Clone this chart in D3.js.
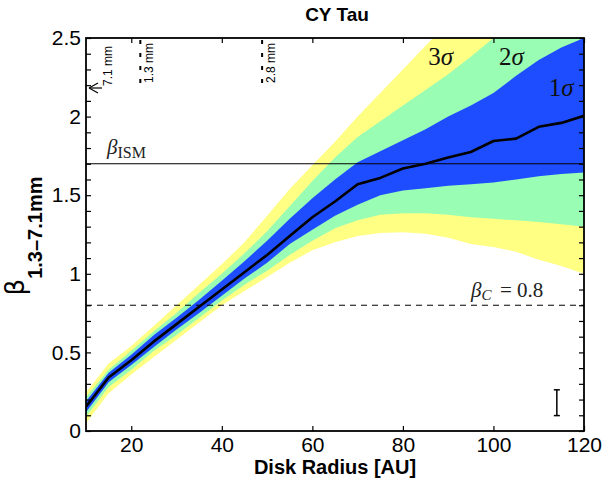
<!DOCTYPE html>
<html>
<head>
<meta charset="utf-8">
<title>CY Tau</title>
<style>
  body { margin: 0; background: #fff; }
  svg text { font-family: "Liberation Sans", Arial, sans-serif; }
  .serif { font-family: "Liberation Serif", "Times New Roman", serif; }
</style>
</head>
<body>
<svg class="drawing"></svg>
<script src="https://d3js.org/d3.v7.min.js"></script>
<script>
var w = 605, h = 485;
var m = {top: 38, right: 21, bottom: 54, left: 86};

// disk radius [AU]
var radius = [10, 15, 20, 25, 30, 35, 40, 45, 50, 55, 60, 65, 70, 75, 80, 85, 90, 95, 100, 105, 110, 115, 120];
// median beta
var median = [0.155, 0.34, 0.45, 0.57, 0.68, 0.79, 0.90, 1.01, 1.12, 1.24, 1.36, 1.46, 1.57, 1.61, 1.67, 1.70, 1.74, 1.775, 1.845, 1.86, 1.935, 1.96, 2.005];
// 1 sigma
var s1Hi = [0.19, 0.37, 0.485, 0.61, 0.72, 0.835, 0.955, 1.08, 1.21, 1.35, 1.48, 1.60, 1.71, 1.78, 1.85, 1.92, 2.00, 2.07, 2.15, 2.26, 2.36, 2.44, 2.50];
var s1Lo = [0.12, 0.31, 0.42, 0.535, 0.645, 0.75, 0.86, 0.97, 1.07, 1.19, 1.28, 1.37, 1.44, 1.50, 1.53, 1.545, 1.56, 1.57, 1.58, 1.60, 1.62, 1.635, 1.645];
// 2 sigma
var s2Hi = [0.215, 0.39, 0.51, 0.635, 0.75, 0.88, 1.00, 1.13, 1.27, 1.43, 1.59, 1.74, 1.87, 1.97, 2.07, 2.17, 2.27, 2.38, 2.50, 2.60, 2.70, 2.80, 2.90];
var s2Lo = [0.09, 0.28, 0.39, 0.51, 0.61, 0.72, 0.83, 0.93, 1.02, 1.12, 1.21, 1.29, 1.34, 1.375, 1.385, 1.385, 1.375, 1.36, 1.35, 1.34, 1.33, 1.315, 1.30];
// 3 sigma
var s3Hi = [0.245, 0.43, 0.54, 0.67, 0.80, 0.93, 1.06, 1.20, 1.37, 1.54, 1.69, 1.84, 2.00, 2.15, 2.30, 2.45, 2.60, 2.75, 2.90, 3.05, 3.20, 3.35, 3.50];
var s3Lo = [0.05, 0.24, 0.36, 0.47, 0.58, 0.69, 0.80, 0.89, 0.98, 1.07, 1.15, 1.20, 1.24, 1.26, 1.265, 1.255, 1.23, 1.19, 1.17, 1.14, 1.09, 1.05, 1.00];

var xTicks = [20, 40, 60, 80, 100, 120];
var yTicks = [0, 0.5, 1, 1.5, 2, 2.5];
var betaISM = 1.7;
var betaC = 0.8;
// beam resolution markers
var resMarks = [{label: '1.3 mm', r: 22}, {label: '2.8 mm', r: 48.9}];
var resArrow = {label: '7.1 mm', r: 10};
// representative error bar
var errBar = {r: 114, beta: 0.18, err: 0.082};

var svg = d3.select('.drawing').attr('width', w).attr('height', h);

var x = d3.scaleLinear().domain([10, 120]).range([m.left, w - m.right]);
var y = d3.scaleLinear().domain([0, 2.5]).range([h - m.bottom, m.top]);

svg.append('clipPath').attr('id', 'plot')
    .append('rect')
    .attr('x', x(10)).attr('y', y(2.5))
    .attr('width', x(120) - x(10)).attr('height', y(0) - y(2.5));

var rows = radius.map(function(r, i) {
    return {r: r, med: median[i], s1: [s1Lo[i], s1Hi[i]], s2: [s2Lo[i], s2Hi[i]], s3: [s3Lo[i], s3Hi[i]]};
});

var plot = svg.append('g').attr('clip-path', 'url(#plot)');

var bands = [
    {key: 's3', color: '#ffff84'},
    {key: 's2', color: '#99fdb4'},
    {key: 's1', color: '#1e4dff'}
];
bands.forEach(function(b) {
    var area = d3.area()
        .x(d => x(d.r))
        .y0(d => y(d[b.key][0]))
        .y1(d => y(d[b.key][1]));
    plot.append('path')
        .attr('d', area(rows))
        .attr('fill', b.color)
        .attr('stroke', 'none');
});

plot.append('path')
    .attr('d', d3.line().x(d => x(d.r)).y(d => y(d.med))(rows))
    .attr('fill', 'none')
    .attr('stroke', '#000')
    .attr('stroke-width', 2.6)
    .attr('stroke-linejoin', 'round');

// reference lines
svg.append('line')
    .attr('x1', x(10)).attr('x2', x(120))
    .attr('y1', y(betaISM)).attr('y2', y(betaISM))
    .attr('stroke', '#000').attr('stroke-width', 1.2);
svg.append('line')
    .attr('x1', x(10)).attr('x2', x(120))
    .attr('y1', y(betaC)).attr('y2', y(betaC))
    .attr('stroke', '#000').attr('stroke-width', 1)
    .attr('stroke-dasharray', '6,5');

var t1 = svg.append('text').attr('class', 'serif')
    .attr('x', 107).attr('y', 154).attr('fill', '#222');
t1.append('tspan').attr('font-style', 'italic').attr('font-size', 21).text('β');
t1.append('tspan').attr('font-size', 16).attr('dy', 4).text('ISM');

var t2 = svg.append('text').attr('class', 'serif')
    .attr('x', 471).attr('y', 297).attr('fill', '#222');
t2.append('tspan').attr('font-style', 'italic').attr('font-size', 21).text('β');
t2.append('tspan').attr('font-style', 'italic').attr('font-size', 15).attr('dy', 3).text('C');
t2.append('tspan').attr('font-size', 21).attr('x', 500).attr('dy', -3).text('= 0.8');

// sigma labels
[{n: '3', r: 85.6, b: 2.33}, {n: '2', r: 101.2, b: 2.33}, {n: '1', r: 112.2, b: 2.13}].forEach(function(s) {
    var t = svg.append('text').attr('class', 'serif')
        .attr('x', x(s.r)).attr('y', y(s.b))
        .attr('font-size', 25).attr('fill', '#111');
    t.append('tspan').text(s.n);
    t.append('tspan').attr('font-style', 'italic').text('σ');
});

// error bar
var eb = svg.append('g').attr('stroke', '#000').attr('stroke-width', 1.5);
eb.append('line').attr('x1', x(errBar.r)).attr('x2', x(errBar.r))
    .attr('y1', y(errBar.beta - errBar.err)).attr('y2', y(errBar.beta + errBar.err));
[-1, 1].forEach(function(s) {
    eb.append('line')
        .attr('x1', x(errBar.r) - 3).attr('x2', x(errBar.r) + 3)
        .attr('y1', y(errBar.beta + s * errBar.err)).attr('y2', y(errBar.beta + s * errBar.err));
});

// resolution markers at the top
resMarks.forEach(function(d) {
    svg.append('line')
        .attr('x1', x(d.r)).attr('x2', x(d.r))
        .attr('y1', y(2.5) + 2).attr('y2', y(2.5) + 47)
        .attr('stroke', '#000').attr('stroke-width', 2)
        .attr('stroke-dasharray', '4,9');
    svg.append('text')
        .attr('transform', 'translate(' + (x(d.r) + 13) + ',' + (y(2.5) + 45) + ') rotate(-90)')
        .attr('font-size', 12).text(d.label);
});
svg.append('line')
    .attr('x1', x(resArrow.r) + 16).attr('x2', x(resArrow.r) + 4)
    .attr('y1', 88).attr('y2', 88)
    .attr('stroke', '#000').attr('stroke-width', 1.2);
svg.append('path')
    .attr('d', 'M' + (x(resArrow.r) + 3) + ',88 l9,-5 M' + (x(resArrow.r) + 3) + ',88 l9,5')
    .attr('stroke', '#000').attr('stroke-width', 1.2).attr('fill', 'none');
svg.append('text')
    .attr('transform', 'translate(' + (x(resArrow.r) + 26) + ',86) rotate(-90)')
    .attr('font-size', 12).text(resArrow.label);

// axes box and ticks
var axisG = svg.append('g');
axisG.append('rect')
    .attr('x', x(10)).attr('y', y(2.5))
    .attr('width', x(120) - x(10)).attr('height', y(0) - y(2.5))
    .attr('fill', 'none').attr('stroke', '#000').attr('stroke-width', 1.8);

var xb = axisG.append('g').attr('transform', 'translate(0,' + y(0) + ')')
    .call(d3.axisBottom(x).tickValues(xTicks).tickSize(-5).tickPadding(6));
var xt = axisG.append('g').attr('transform', 'translate(0,' + y(2.5) + ')')
    .call(d3.axisTop(x).tickValues(xTicks).tickSize(-5).tickFormat(''));
var minorY = d3.range(0, 26).map(i => i / 10);
var yl = axisG.append('g').attr('transform', 'translate(' + x(10) + ',0)')
    .call(d3.axisLeft(y).tickValues(minorY).tickSize(-5).tickPadding(5)
        .tickFormat(d => yTicks.some(t => Math.abs(t - d) < 1e-9) ? d3.format('~g')(d) : ''));
var yr = axisG.append('g').attr('transform', 'translate(' + x(120) + ',0)')
    .call(d3.axisRight(y).tickValues(minorY).tickSize(-5).tickFormat(''));
[xb, xt, yl, yr].forEach(function(g) {
    g.select('.domain').remove();
    g.selectAll('.tick line').attr('stroke', '#000').attr('stroke-width', 1.2);
    g.selectAll('.tick text').attr('font-size', 21).attr('fill', '#000')
        .style('font-family', '"Liberation Sans", Arial, sans-serif');
});

// titles
svg.append('text')
    .attr('x', (x(10) + x(120)) / 2 + 2).attr('y', 21)
    .attr('text-anchor', 'middle').attr('font-weight', 'bold').attr('font-size', 19)
    .text('CY Tau');
svg.append('text')
    .attr('x', (x(10) + x(120)) / 2).attr('y', 474)
    .attr('text-anchor', 'middle').attr('font-weight', 'bold').attr('font-size', 20)
    .text('Disk Radius [AU]');
var yLab = svg.append('text')
    .attr('transform', 'translate(24,236) rotate(-90)')
    .attr('text-anchor', 'middle');
yLab.append('tspan').attr('font-size', 26).style('font-family', '"DejaVu Sans", sans-serif').text('β');
yLab.append('tspan').attr('font-size', 20).attr('font-weight', 'bold').attr('dy', 18).text('1.3–7.1mm');
</script>
</body>
</html>
